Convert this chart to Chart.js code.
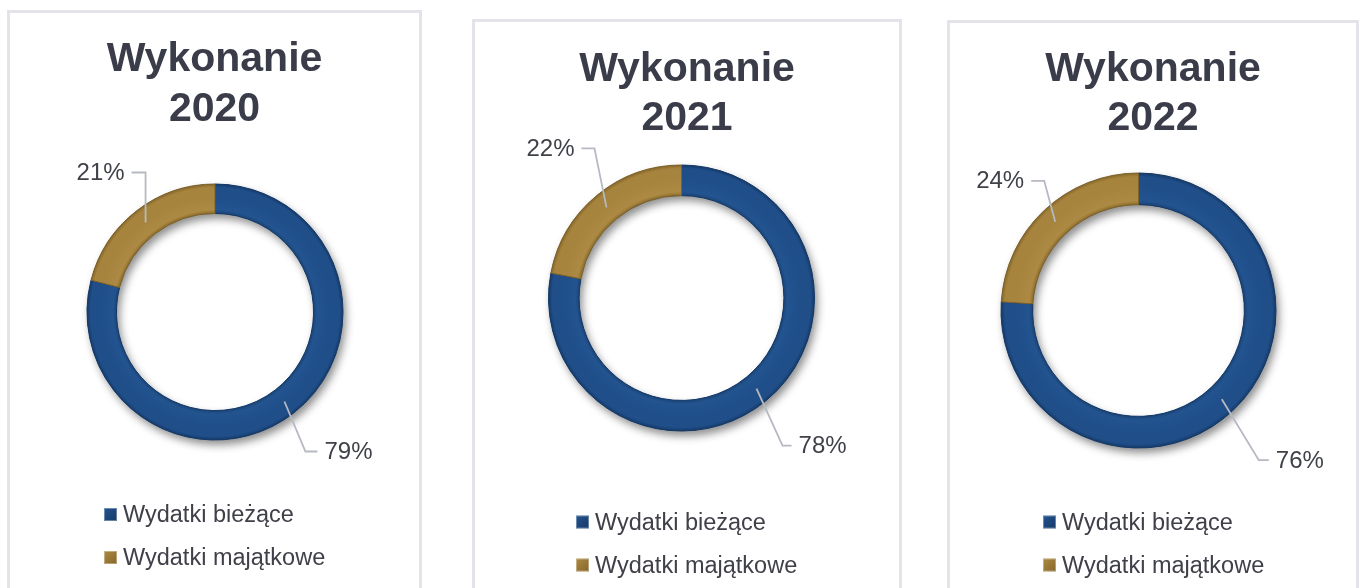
<!DOCTYPE html>
<html lang="pl">
<head>
<meta charset="utf-8">
<title>Wykonanie 2020–2022</title>
<script src="https://cdn.jsdelivr.net/npm/chart.js@4.4.1/dist/chart.umd.min.js"></script>
<style>
  html, body { margin: 0; padding: 0; background: #fff; }
  body { width: 1359px; height: 588px; position: relative; overflow: hidden; }
  .panel { position: absolute; border: 3px solid #e3e3e9; box-sizing: border-box; height: 640px; }
  canvas { position: absolute; top: 0; }
</style>
</head>
<body>
<div class="panel" style="left:7px; top:10px; width:415px;"></div>
<div class="panel" style="left:472px; top:19px; width:430px;"></div>
<div class="panel" style="left:947px; top:20px; width:412px;"></div>
<canvas id="chart2020" width="410" height="588" style="left:10px"></canvas>
<canvas id="chart2021" width="424" height="588" style="left:475px"></canvas>
<canvas id="chart2022" width="405" height="588" style="left:950px"></canvas>

<script>
// ---- data ----
const categories   = ['Wydatki bieżące', 'Wydatki majątkowe'];
const years        = ['2020', '2021', '2022'];
const currentShare = [79, 78, 76];   // Wydatki bieżące, %
const capitalShare = [21, 22, 24];   // Wydatki majątkowe, %
const titleWord    = 'Wykonanie';

// ---- style ----
const FONT = '"Liberation Sans", Arial, sans-serif';
const CUTOUT = 0.77;
// inner edge, highlight, body, outer edge
const ringShades = [
  ['#1a4477', '#23548f', '#1f4e89', '#163a68'],  // blue
  ['#8c6c2c', '#ad8a43', '#a7843d', '#86672a'],  // gold
];
const sliceEdges = ['#163a68', '#7f6329'];

// per-panel layout: chart area padding, title + legend spots, leader [dx, dy, run]
const panels = [
  { id: 'chart2020', padding: { left: 76.5, right: 76.5, top: 183.5, bottom: 147.5 },
    titleX: 204.5, titleY: [71, 121], legendX: 94, legendY: 514.5,
    leaders: [[21, 50, 12], [0, -50, -14]] },
  { id: 'chart2021', padding: { left: 73, right: 84, top: 164, bottom: 156 },
    titleX: 212, titleY: [81, 130], legendX: 101, legendY: 522,
    leaders: [[26, 57, 9], [-12, -59, -13]] },
  { id: 'chart2022', padding: { left: 50.5, right: 78.5, top: 172.5, bottom: 139.5 },
    titleX: 203, titleY: [81, 130], legendX: 93, legendY: 522,
    leaders: [[37, 61, 10], [-11, -41, -13]] },
];

function ringFill(context) {
  const chart = context.chart;
  const area = chart.chartArea;
  const s = ringShades[context.dataIndex] || ringShades[0];
  if (!area) return s[2];
  const cx = (area.left + area.right) / 2;
  const cy = (area.top + area.bottom) / 2;
  const outer = (Math.min(area.width, area.height) - 1) / 2;
  const inner = outer * CUTOUT;
  const g = chart.ctx.createRadialGradient(cx, cy, inner, cx, cy, outer);
  g.addColorStop(0, s[0]);
  g.addColorStop(0.12, s[1]);
  g.addColorStop(0.55, s[2]);
  g.addColorStop(0.88, s[2]);
  g.addColorStop(1, s[3]);
  return g;
}

// soft drop shadow under the whole ring
const ringShadow = {
  id: 'ringShadow',
  beforeDatasetsDraw(chart) {
    const arc = chart.getDatasetMeta(0).data[0];
    if (!arc) return;
    const { x, y, innerRadius, outerRadius } = arc;
    const ctx = chart.ctx;
    ctx.save();
    ctx.shadowColor = 'rgba(0,0,0,0.45)';
    ctx.shadowBlur = 9;
    ctx.shadowOffsetX = 3;
    ctx.shadowOffsetY = 5;
    ctx.fillStyle = '#1f4e89';
    ctx.beginPath();
    ctx.arc(x, y, outerRadius, 0, Math.PI * 2);
    ctx.arc(x, y, innerRadius, 0, Math.PI * 2, true);
    ctx.fill();
    ctx.restore();
  }
};

function makePanel(p, i) {
  const leaderLabels = {
    id: 'leaderLabels',
    afterDatasetsDraw(chart) {
      const ctx = chart.ctx;
      const values = chart.data.datasets[0].data;
      chart.getDatasetMeta(0).data.forEach((arc, k) => {
        const a = arc.tooltipPosition();
        const [dx, dy, run] = p.leaders[k];
        const ex = a.x + dx, ey = a.y + dy, hx = ex + run;
        ctx.save();
        ctx.strokeStyle = '#b5b9c1';
        ctx.lineWidth = 1.8;
        ctx.beginPath();
        ctx.moveTo(a.x, a.y);
        ctx.lineTo(ex, ey);
        ctx.lineTo(hx, ey);
        ctx.stroke();
        ctx.font = '24px ' + FONT;
        ctx.fillStyle = '#404249';
        ctx.textBaseline = 'middle';
        ctx.textAlign = run < 0 ? 'right' : 'left';
        ctx.fillText(values[k] + '%', hx + Math.sign(run) * 7, ey + 1);
        ctx.restore();
      });
    }
  };

  const panelText = {
    id: 'panelText',
    afterDraw(chart) {
      const ctx = chart.ctx;
      ctx.save();
      // title
      ctx.font = 'bold 41px ' + FONT;
      ctx.fillStyle = '#3a3d49';
      ctx.textAlign = 'center';
      ctx.textBaseline = 'alphabetic';
      ctx.fillText(titleWord, p.titleX, p.titleY[0]);
      ctx.fillText(years[i], p.titleX, p.titleY[1]);
      // legend
      ctx.font = '23.5px ' + FONT;
      ctx.textAlign = 'left';
      chart.data.labels.forEach((label, k) => {
        const cy = p.legendY + k * 43;
        const s = ringShades[k];
        const g = ctx.createLinearGradient(p.legendX, cy - 6.5, p.legendX + 13, cy + 6.5);
        g.addColorStop(0, s[1]);
        g.addColorStop(1, s[3]);
        ctx.fillStyle = g;
        ctx.fillRect(p.legendX, cy - 6.5, 13, 13);
        ctx.strokeStyle = 'rgba(255,255,255,0.35)';
        ctx.lineWidth = 1;
        ctx.strokeRect(p.legendX + 0.5, cy - 6, 12, 12);
        ctx.fillStyle = '#3f4048';
        ctx.fillText(label, p.legendX + 19, cy + 7.5);
      });
      ctx.restore();
    }
  };

  new Chart(document.getElementById(p.id), {
    type: 'doughnut',
    data: {
      labels: categories,
      datasets: [{
        data: [currentShare[i], capitalShare[i]],
        backgroundColor: ringFill,
        borderColor: sliceEdges,
        borderWidth: 1,
      }]
    },
    options: {
      responsive: false,
      animation: false,
      events: [],
      cutout: (CUTOUT * 100) + '%',
      layout: { padding: p.padding },
      plugins: {
        legend: { display: false },
        title: { display: false },
        tooltip: { enabled: false }
      }
    },
    plugins: [ringShadow, leaderLabels, panelText]
  });
}

panels.forEach(makePanel);
</script>
</body>
</html>
